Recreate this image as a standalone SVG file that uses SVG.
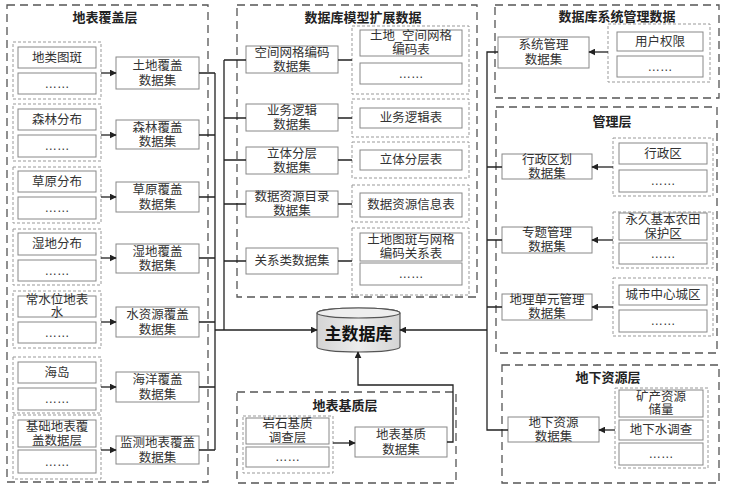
<svg xmlns="http://www.w3.org/2000/svg" width="729" height="495" viewBox="0 0 729 495">
<style>
text{font-family:"Liberation Sans","Noto Sans CJK SC",sans-serif;font-size:12.5px;fill:#333;text-anchor:middle;dominant-baseline:central}
.t{font-size:13px;font-weight:bold;fill:#222}
.outer{fill:none;stroke:#555;stroke-width:1.3;stroke-dasharray:8 5}
.grp{fill:none;stroke:#999;stroke-width:1;stroke-dasharray:3 2}
.box{fill:#fff;stroke:#888;stroke-width:1}
.ln{fill:none;stroke:#222;stroke-width:1.3}
.ar{fill:none;stroke:#222;stroke-width:1.3;marker-end:url(#ah)}
</style>
<defs>
<marker id="ah" viewBox="0 0 10 10" refX="9" refY="5" markerWidth="7" markerHeight="7" markerUnits="userSpaceOnUse" orient="auto"><path d="M0,0 L10,5 L0,10 z" fill="#222"/></marker>
<linearGradient id="cg" x1="0" y1="0" x2="1" y2="0"><stop offset="0" stop-color="#d4d4d4"/><stop offset="0.5" stop-color="#ececec"/><stop offset="1" stop-color="#d4d4d4"/></linearGradient>
</defs>
<rect width="729" height="495" fill="#fff"/>

<!-- Left: 地表覆盖层 -->
<g id="layer-cover">
<rect class="outer" x="7" y="5" width="201" height="477"/>
<text class="t" x="105" y="17">地表覆盖层</text>
</g>
<g id="g-dltb"><rect class="grp" x="13" y="42" width="88" height="57"/><rect class="box" x="18" y="47" width="78" height="21"/><text x="57" y="57.5">地类图斑</text><rect class="box" x="18" y="73" width="78" height="21"/><text x="57" y="83.5">……</text></g>
<g id="g-sl"><rect class="grp" x="13" y="104" width="88" height="57"/><rect class="box" x="18" y="109" width="78" height="21"/><text x="57" y="119.5">森林分布</text><rect class="box" x="18" y="135" width="78" height="22"/><text x="57" y="146">……</text></g>
<g id="g-cy"><rect class="grp" x="13" y="167" width="88" height="56"/><rect class="box" x="18" y="171" width="78" height="21"/><text x="57" y="181.5">草原分布</text><rect class="box" x="18" y="197" width="78" height="22"/><text x="57" y="208">……</text></g>
<g id="g-sd"><rect class="grp" x="13" y="229" width="88" height="56"/><rect class="box" x="18" y="233" width="78" height="22"/><text x="57" y="244">湿地分布</text><rect class="box" x="18" y="260" width="78" height="21"/><text x="57" y="270.5">……</text></g>
<g id="g-csw"><rect class="grp" x="13" y="291" width="88" height="57"/><rect class="box" x="18" y="296" width="78" height="21"/><text x="57" y="300">常水位地表<tspan x="57" dy="13">水</tspan></text><rect class="box" x="18" y="322" width="78" height="21"/><text x="57" y="332.5">……</text></g>
<g id="g-hd"><rect class="grp" x="13" y="357" width="88" height="56"/><rect class="box" x="18" y="362" width="78" height="21"/><text x="57" y="372.5">海岛</text><rect class="box" x="18" y="388" width="78" height="22"/><text x="57" y="399">……</text></g>
<g id="g-jc"><rect class="grp" x="13" y="415" width="88" height="64"/><rect class="box" x="18" y="420" width="78" height="27"/><text x="57" y="427">基础地表覆<tspan x="57" dy="14">盖数据层</tspan></text><rect class="box" x="18" y="450" width="78" height="23"/><text x="57" y="461.5">……</text></g>

<g id="ds-td"><rect class="box" x="116" y="57" width="83" height="32"/><text x="157.5" y="66">土地覆盖<tspan x="157.5" dy="15">数据集</tspan></text></g>
<g id="ds-sl"><rect class="box" x="116" y="120" width="83" height="29"/><text x="157.5" y="127.5">森林覆盖<tspan x="157.5" dy="14.5">数据集</tspan></text></g>
<g id="ds-cy"><rect class="box" x="116" y="182" width="83" height="30"/><text x="157.5" y="190">草原覆盖<tspan x="157.5" dy="14.5">数据集</tspan></text></g>
<g id="ds-sd"><rect class="box" x="116" y="244" width="83" height="29"/><text x="157.5" y="251.5">湿地覆盖<tspan x="157.5" dy="14.5">数据集</tspan></text></g>
<g id="ds-szy"><rect class="box" x="116" y="307" width="83" height="30"/><text x="157.5" y="315">水资源覆盖<tspan x="157.5" dy="14.5">数据集</tspan></text></g>
<g id="ds-hy"><rect class="box" x="116" y="372" width="83" height="30"/><text x="157.5" y="380">海洋覆盖<tspan x="157.5" dy="14.5">数据集</tspan></text></g>
<g id="ds-jc"><rect class="box" x="116" y="436" width="83" height="28"/><text x="157.5" y="443">监测地表覆盖<tspan x="157.5" dy="14.5">数据集</tspan></text></g>

<!-- Middle: 数据库模型扩展数据 -->
<g id="layer-ext">
<rect class="outer" x="237" y="5" width="240" height="292"/>
<text class="t" x="363" y="17">数据库模型扩展数据</text>
</g>
<g id="ds-kj"><rect class="box" x="246" y="46" width="92" height="27"/><text x="292" y="52.5">空间网格编码<tspan x="292" dy="14">数据集</tspan></text></g>
<g id="ds-yw"><rect class="box" x="246" y="104" width="92" height="27"/><text x="292" y="110.5">业务逻辑<tspan x="292" dy="14">数据集</tspan></text></g>
<g id="ds-lt"><rect class="box" x="246" y="147" width="92" height="27"/><text x="292" y="153.5">立体分层<tspan x="292" dy="14">数据集</tspan></text></g>
<g id="ds-zy"><rect class="box" x="246" y="191" width="92" height="26"/><text x="292" y="197">数据资源目录<tspan x="292" dy="14">数据集</tspan></text></g>
<g id="ds-gx"><rect class="box" x="246" y="248" width="92" height="26"/><text x="292" y="261">关系类数据集</text></g>

<g id="g-kjb"><rect class="grp" x="352" y="26" width="117" height="68"/><rect class="box" x="360" y="30" width="102" height="26"/><text x="411" y="36">土地_空间网格<tspan x="411" dy="14">编码表</tspan></text><rect class="box" x="360" y="63" width="102" height="21"/><text x="411" y="73.5">……</text></g>
<g id="g-ywb"><rect class="grp" x="352" y="99" width="117" height="38"/><rect class="box" x="360" y="108" width="102" height="20"/><text x="411" y="118">业务逻辑表</text></g>
<g id="g-ltb"><rect class="grp" x="352" y="142" width="117" height="36"/><rect class="box" x="360" y="150" width="102" height="20"/><text x="411" y="160">立体分层表</text></g>
<g id="g-zyb"><rect class="grp" x="352" y="185" width="117" height="37"/><rect class="box" x="360" y="193" width="102" height="24"/><text x="411" y="205">数据资源信息表</text></g>
<g id="g-gxb"><rect class="grp" x="352" y="228" width="117" height="67"/><rect class="box" x="360" y="233" width="102" height="28"/><text x="411" y="240">土地图斑与网格<tspan x="411" dy="14">编码关系表</tspan></text><rect class="box" x="360" y="263" width="102" height="22"/><text x="411" y="274">……</text></g>

<!-- Right top: 数据库系统管理数据 -->
<g id="layer-sys">
<rect class="outer" x="495" y="5" width="224" height="93"/>
<text class="t" x="617" y="16">数据库系统管理数据</text>
</g>
<g id="ds-xt"><rect class="box" x="498" y="37" width="91" height="31"/><text x="543.5" y="45">系统管理<tspan x="543.5" dy="15">数据集</tspan></text></g>
<g id="g-yh"><rect class="grp" x="608" y="24" width="102" height="58"/><rect class="box" x="617" y="32" width="86" height="19"/><text x="660" y="41.5">用户权限</text><rect class="box" x="617" y="56" width="86" height="21"/><text x="660" y="66.5">……</text></g>

<!-- 管理层 -->
<g id="layer-mgmt">
<rect class="outer" x="496" y="107" width="221" height="246"/>
<text class="t" x="612" y="121">管理层</text>
</g>
<g id="ds-xzqh"><rect class="box" x="502" y="154" width="90" height="25"/><text x="547" y="160">行政区划<tspan x="547" dy="13.5">数据集</tspan></text></g>
<g id="ds-zt"><rect class="box" x="502" y="227" width="90" height="26"/><text x="547" y="233">专题管理<tspan x="547" dy="14">数据集</tspan></text></g>
<g id="ds-dl"><rect class="box" x="502" y="294" width="90" height="26"/><text x="547" y="300">地理单元管理<tspan x="547" dy="14">数据集</tspan></text></g>
<g id="g-xzq"><rect class="grp" x="613" y="138" width="100" height="58"/><rect class="box" x="619" y="143" width="88" height="21"/><text x="663" y="153.5">行政区</text><rect class="box" x="619" y="170" width="88" height="22"/><text x="663" y="181">……</text></g>
<g id="g-nt"><rect class="grp" x="613" y="212" width="100" height="56"/><rect class="box" x="619" y="213" width="88" height="27"/><text x="663" y="220">永久基本农田<tspan x="663" dy="13.5">保护区</tspan></text><rect class="box" x="619" y="243" width="88" height="21"/><text x="663" y="253.5">……</text></g>
<g id="g-cs"><rect class="grp" x="613" y="278" width="100" height="58"/><rect class="box" x="619" y="285" width="88" height="20"/><text x="663" y="295">城市中心城区</text><rect class="box" x="619" y="310" width="88" height="22"/><text x="663" y="321">……</text></g>

<!-- 地下资源层 -->
<g id="layer-under">
<rect class="outer" x="502" y="365" width="217" height="118"/>
<text class="t" x="608" y="377">地下资源层</text>
</g>
<g id="ds-dx"><rect class="box" x="508" y="417" width="91" height="25"/><text x="553.5" y="423">地下资源<tspan x="553.5" dy="13.5">数据集</tspan></text></g>
<g id="g-kc"><rect class="grp" x="615" y="388" width="93" height="80"/><rect class="box" x="619" y="390" width="84" height="27"/><text x="661" y="397">矿产资源<tspan x="661" dy="13">储量</tspan></text><rect class="box" x="619" y="420" width="84" height="20"/><text x="661" y="430">地下水调查</text><rect class="box" x="619" y="443" width="84" height="22"/><text x="661" y="454">……</text></g>

<!-- 地表基质层 -->
<g id="layer-base">
<rect class="outer" x="237" y="392" width="219" height="91"/>
<text class="t" x="345" y="405">地表基质层</text>
</g>
<g id="g-ys"><rect class="grp" x="243" y="416" width="90" height="57"/><rect class="box" x="246" y="418" width="83" height="26"/><text x="287.5" y="424">岩石基质<tspan x="287.5" dy="13.5">调查层</tspan></text><rect class="box" x="246" y="447" width="83" height="20"/><text x="287.5" y="457">……</text></g>
<g id="ds-jz"><rect class="box" x="355" y="427" width="92" height="30"/><text x="401" y="435">地表基质<tspan x="401" dy="14.5">数据集</tspan></text></g>

<!-- Main database -->
<g id="main-db">
<path d="M317,313 L317,347 A41.5,5 0 0 0 400,347 L400,313 A41.5,5 0 0 0 317,313 Z" fill="url(#cg)" stroke="#555" stroke-width="1.2"/>
<ellipse cx="358.5" cy="313" rx="41.5" ry="5" fill="#eee" stroke="#555" stroke-width="1.2"/>
<text x="358.5" y="334" style="font-size:17px;font-weight:bold;fill:#111">主数据库</text>
</g>

<!-- Connectors -->
<g id="connectors">
<line class="ar" x1="101" y1="73" x2="116" y2="73"/>
<line class="ar" x1="101" y1="135" x2="116" y2="135"/>
<line class="ar" x1="101" y1="197" x2="116" y2="197"/>
<line class="ar" x1="101" y1="258" x2="116" y2="258"/>
<line class="ar" x1="101" y1="322" x2="116" y2="322"/>
<line class="ar" x1="101" y1="387" x2="116" y2="387"/>
<line class="ar" x1="101" y1="450" x2="116" y2="450"/>
<path class="ln" d="M199,73 H215 M199,135 H215 M199,197 H215 M199,258 H215 M199,322 H215 M199,387 H215 M199,450 H215 M215,73 V450"/>
<path class="ln" d="M224,60 V330 M224,60 H246 M224,118 H246 M224,160 H246 M224,204 H246 M224,261 H246"/>
<path class="ln" d="M338,60 H352 M338,118 H352 M338,160 H352 M338,204 H352 M338,261 H352"/>
<line class="ar" x1="215" y1="330" x2="317" y2="330"/>
<line class="ar" x1="608" y1="52" x2="589" y2="52"/>
<line class="ar" x1="613" y1="167" x2="592" y2="167"/>
<line class="ar" x1="613" y1="240" x2="592" y2="240"/>
<line class="ar" x1="613" y1="307" x2="592" y2="307"/>
<line class="ar" x1="615" y1="430" x2="599" y2="430"/>
<path class="ln" d="M498,52 H487 V430 H508 M487,167 H502 M487,240 H502 M487,307 H502"/>
<line class="ar" x1="487" y1="330" x2="400" y2="330"/>
<line class="ar" x1="333" y1="443" x2="355" y2="443"/>
<path class="ar" d="M447,442 H453 V385 H358 V352"/>
</g>
</svg>
